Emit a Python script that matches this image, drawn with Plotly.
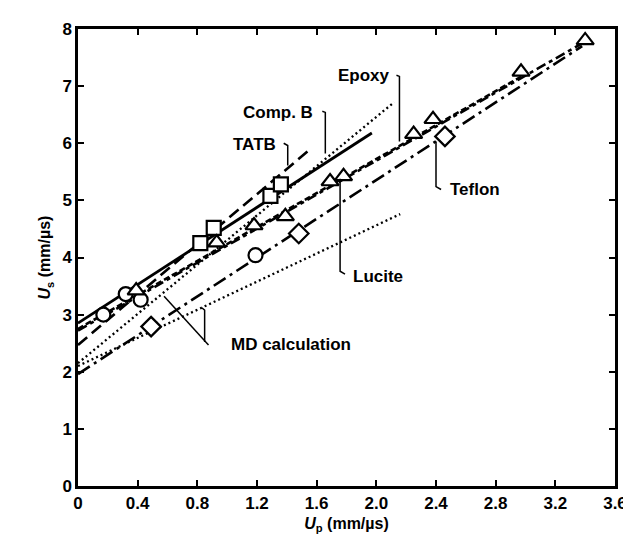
import plotly.graph_objects as go

# ---- data (Up in mm/us, Us in mm/us) ----
circle_up = [0.17, 0.32, 0.42, 1.19]
circle_us = [3.00, 3.36, 3.26, 4.04]
square_up = [0.82, 0.91, 1.29, 1.36]
square_us = [4.25, 4.52, 5.08, 5.28]
triangle_up = [0.39, 0.93, 1.18, 1.39, 1.69, 1.78, 2.25, 2.38, 2.97, 3.40]
triangle_us = [3.42, 4.26, 4.56, 4.72, 5.33, 5.42, 6.16, 6.42, 7.25, 7.80]
diamond_up = [0.49, 1.48, 2.46]
diamond_us = [2.79, 4.42, 6.12]

compb_up = [0.0, 1.97]
compb_us = [2.85, 6.18]
tatb_up = [0.0, 1.55]
tatb_us = [2.47, 5.88]
epoxy_up = [0.0, 2.98]
epoxy_us = [2.75, 7.18]
lucite_up = [0.0, 3.38]
lucite_us = [2.72, 7.75]
teflon_up = [0.0, 3.38]
teflon_us = [1.96, 7.70]
md_hi_up = [0.0, 2.12]
md_hi_us = [2.15, 6.72]
md_lo_up = [0.0, 2.16]
md_lo_us = [2.10, 4.76]

x_ticks = [0, 0.4, 0.8, 1.2, 1.6, 2.0, 2.4, 2.8, 3.2, 3.6]
x_tick_text = ["0", "0.4", "0.8", "1.2", "1.6", "2.0", "2.4", "2.8", "3.2", "3.6"]
y_ticks = [0, 1, 2, 3, 4, 5, 6, 7, 8]

FONT = "Liberation Sans, Arial, sans-serif"
BLACK = "black"

fig = go.Figure()

def line(xs, ys, dash, width=2.6):
    fig.add_trace(go.Scatter(x=xs, y=ys, mode="lines",
                             line=dict(color=BLACK, width=width, dash=dash),
                             showlegend=False, hoverinfo="skip"))

line(md_hi_up, md_hi_us, "2px,3px", 2.3)
line(md_lo_up, md_lo_us, "2px,3px", 2.3)
line(teflon_up, teflon_us, "14px,5px,3px,5px")
line(lucite_up, lucite_us, "10px,4px,4px,4px")
line(epoxy_up, epoxy_us, "6px,3px")
line(tatb_up, tatb_us, "12px,6px")
line(compb_up, compb_us, "solid", 2.8)

def pts(xs, ys, sym, size=14):
    fig.add_trace(go.Scatter(x=xs, y=ys, mode="markers",
                             marker=dict(symbol=sym, size=size, color="white",
                                         line=dict(color=BLACK, width=2.2)),
                             showlegend=False, hoverinfo="skip"))

pts(circle_up, circle_us, "circle")
pts(square_up, square_us, "square")
pts(triangle_up, triangle_us, "triangle-up", 15)
pts(diamond_up, diamond_us, "diamond", 15)

# ---- labels with leader lines ----
labels = [
    ("Comp. B", 1.34, 6.53),
    ("TATB", 1.18, 5.98),
    ("Epoxy", 1.92, 7.18),
    ("Teflon", 2.66, 5.19),
    ("Lucite", 2.01, 3.67),
    ("MD calculation", 1.43, 2.48),
]
for txt, lx, ly in labels:
    fig.add_annotation(x=lx, y=ly, xref="x", yref="y", text=txt, showarrow=False,
                       font=dict(family=FONT, size=17, color=BLACK, weight="bold"))

leaders = [
    "M 1.638 6.56 L 1.658 6.54 L 1.658 5.82",
    "M 1.379 6.00 L 1.406 5.96 L 1.406 5.61",
    "M 2.135 7.19 L 2.155 7.17 L 2.155 6.03",
    "M 2.434 5.19 L 2.400 5.24 L 2.400 6.03",
    "M 1.790 3.71 L 1.757 3.76 L 1.757 5.38",
    "M 0.875 2.47 L 0.577 3.32",
    "M 0.849 2.52 L 0.849 3.08 L 0.830 3.12",
]
for p in leaders:
    fig.add_shape(type="path", path=p, xref="x", yref="y",
                  line=dict(color=BLACK, width=1.5))

axis_common = dict(showgrid=False, zeroline=False, showline=True, linecolor=BLACK,
                   linewidth=2.5, mirror="ticks", ticks="inside", ticklen=6,
                   tickwidth=1.5, tickcolor=BLACK,
                   tickfont=dict(family=FONT, size=17, color=BLACK, weight="bold"))

fig.update_xaxes(range=[0, 3.6], tickvals=x_ticks, ticktext=x_tick_text,
                 title=dict(text="<i>U</i><sub>p</sub> (mm/µs)", standoff=6,
                            font=dict(family=FONT, size=16, color=BLACK, weight="bold")),
                 **axis_common)
fig.update_yaxes(range=[0, 8], tickvals=y_ticks,
                 title=dict(text="<i>U</i><sub>s</sub> (mm/µs)", standoff=8,
                            font=dict(family=FONT, size=16, color=BLACK, weight="bold")),
                 **axis_common)

fig.update_layout(width=631, height=542,
                  margin=dict(l=70, r=18, t=20, b=64),
                  plot_bgcolor="white", paper_bgcolor="white",
                  font=dict(family=FONT, color=BLACK))

fig.write_html("out.html")
